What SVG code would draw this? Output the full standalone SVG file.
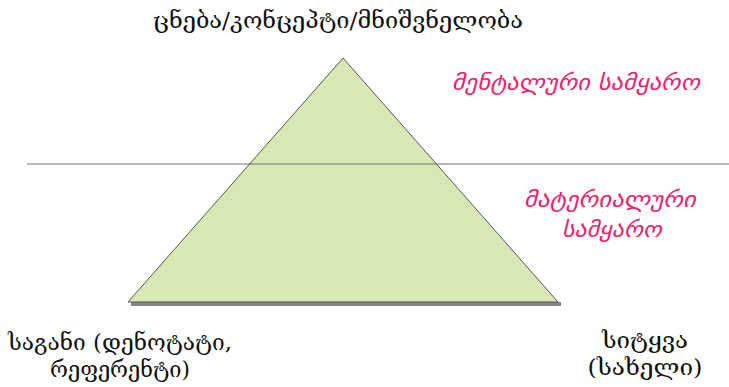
<svg xmlns="http://www.w3.org/2000/svg" width="729" height="387" viewBox="0 0 729 387">
<style>
.lbl{font-family:"DejaVu Serif","DejaVu Sans",serif;font-size:22px;fill:#111;text-anchor:middle}
.pk{font-family:"DejaVu Sans","Noto Sans",sans-serif;font-size:22px;fill:#f0206a;font-style:italic;text-anchor:middle}
</style>
<rect width="729" height="387" fill="#fff"/>
<g id="pyramid">
<polygon points="131,306 561,306 561,302 131,302" fill="#666" opacity="0.8"/>
<polygon points="343,58 558,302 128,302" fill="#d7e8b4" stroke="#555" stroke-width="1"/>
</g>
<g id="connectors">
<line x1="27" y1="164" x2="729" y2="164" stroke="#555" stroke-width="1" opacity="0.8"/>
</g>
<g id="top"><text class="lbl" x="338" y="28" textLength="370" lengthAdjust="spacingAndGlyphs">ცნება/კონცეპტი/მნიშვნელობა</text></g>
<g id="mental"><text class="pk" x="576" y="90" textLength="248" lengthAdjust="spacingAndGlyphs">მენტალური სამყარო</text></g>
<g id="material"><text class="pk" x="610" y="207" textLength="172" lengthAdjust="spacingAndGlyphs">მატერიალური</text><text class="pk" x="612" y="237" textLength="100" lengthAdjust="spacingAndGlyphs">სამყარო</text></g>
<g id="object"><text class="lbl" x="120" y="350" textLength="224" lengthAdjust="spacingAndGlyphs">საგანი (დენოტატი,</text><text class="lbl" x="120" y="377" textLength="140" lengthAdjust="spacingAndGlyphs">რეფერენტი)</text></g>
<g id="word"><text class="lbl" x="645" y="348" textLength="86" lengthAdjust="spacingAndGlyphs">სიტყვა</text><text class="lbl" x="645" y="375" textLength="115" lengthAdjust="spacingAndGlyphs">(სახელი)</text></g>
</svg>
